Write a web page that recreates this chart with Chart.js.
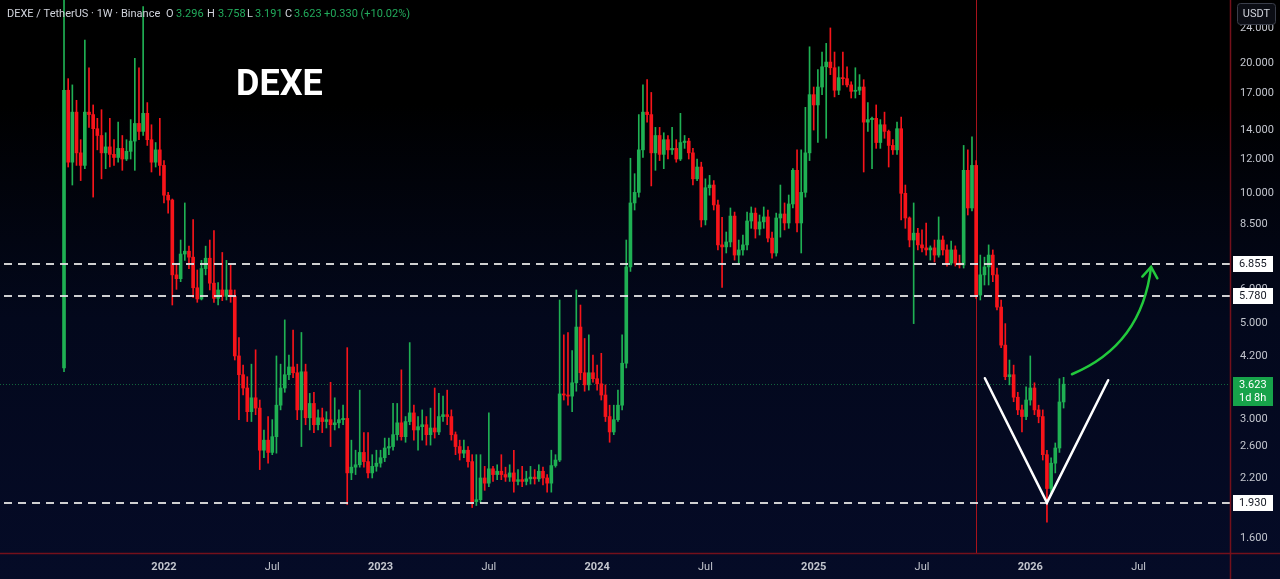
<!DOCTYPE html>
<html lang="en">
<head>
<meta charset="UTF-8">
<title>DEXE / TetherUS · 1W · Binance</title>
<script src="https://cdn.jsdelivr.net/npm/chart.js"></script>
<style>
  body { margin: 0; padding: 0; background: #000; }
  #wrap { width: 1280px; height: 579px; }
  canvas { display: block; }
</style>
</head>
<body>
<div id="wrap"><canvas id="mainCanvas" width="1280" height="579"></canvas></div>
<script>
// weekly candles, index 0 = first week on the chart
const opens = [
  3.95, 17.3, 11.8, 15.4, 12.4, 11.6, 15.4, 15.2, 14.1, 13.6,
  12.4, 12.8, 12.3, 12.1, 12.7, 12.0, 12.5, 13.2, 14.5, 13.9,
  15.3, 13.3, 11.8, 12.6, 11.6, 9.9, 9.65, 6.48, 6.35, 7.24,
  7.35, 7.12, 6.05, 5.7, 6.7, 7.08, 6.2, 5.72, 5.98, 5.78,
  5.98, 5.78, 4.21, 3.81, 3.55, 3.13, 3.37, 3.19, 2.55, 2.69,
  2.52, 2.74, 3.24, 3.55, 3.81, 3.97, 3.85, 3.16, 3.87, 3.03,
  3.27, 2.92, 3.03, 2.97, 3.0, 2.92, 2.95, 3.0, 3.02, 2.26,
  2.33, 2.36, 2.52, 2.40, 2.26, 2.34, 2.38, 2.45, 2.58, 2.60,
  2.77, 2.95, 2.74, 2.97, 3.11, 2.84, 2.89, 2.92, 2.77, 2.87,
  2.81, 3.05, 3.08, 3.05, 2.77, 2.60, 2.51, 2.55, 2.40, 1.94,
  1.96, 2.20, 2.14, 2.31, 2.24, 2.28, 2.24, 2.21, 2.26, 2.16,
  2.18, 2.16, 2.19, 2.21, 2.19, 2.28, 2.20, 2.14, 2.35, 2.42,
  3.44, 3.42, 3.40, 3.65, 4.91, 3.85, 3.61, 3.85, 3.73, 3.63,
  3.42, 3.05, 2.81, 3.0, 3.24, 4.05, 6.76, 9.5, 10.05, 12.6,
  15.4, 15.2, 12.4, 13.6, 12.3, 13.3, 12.6, 12.7, 12.0, 13.1,
  13.2, 12.4, 10.8, 11.5, 8.68, 10.3, 10.45, 9.40, 7.60, 7.52,
  7.72, 8.86, 7.20, 7.40, 7.60, 8.63, 9.0, 8.27, 8.59, 8.82,
  7.88, 7.28, 8.77, 8.96, 8.54, 9.45, 11.3, 8.54, 10.05, 12.4,
  16.9, 16.0, 17.6, 19.6, 20.1, 19.5, 17.3, 18.5, 18.4, 17.8,
  17.2, 17.3, 17.6, 14.6, 14.8, 14.9, 13.1, 14.4, 13.9, 12.9,
  12.6, 14.1, 10.0, 8.77, 7.80, 8.09, 7.60, 7.48, 7.40, 7.48,
  7.20, 7.80, 7.40, 6.90, 7.40, 6.90, 6.83, 11.3, 9.25, 11.6,
  5.82, 6.48, 6.76, 7.20, 6.48, 5.46, 4.46, 3.77, 3.81, 3.38,
  3.16, 3.05, 3.33, 3.55, 3.16, 3.05, 2.49, 2.08, 2.38, 2.58,
  3.296
];
const highs = [
  30, 18.4, 17.8, 16.4, 13.3, 22.6, 19.5, 16.0, 14.9, 15.6,
  13.8, 14.9, 13.3, 14.6, 13.6, 13.3, 14.8, 20.5, 19.5, 27.0,
  16.2, 14.4, 13.1, 14.9, 11.9, 10.05, 9.7, 6.83, 7.8, 9.5,
  7.55, 8.7, 6.65, 7.0, 7.55, 7.8, 8.2, 6.22, 7.3, 7.0,
  6.83, 5.98, 4.64, 4.01, 3.77, 4.03, 4.35, 3.33, 2.84, 3.05,
  3.0, 4.21, 4.03, 5.1, 4.23, 4.83, 4.03, 4.77, 4.03, 3.45,
  3.47, 3.16, 3.19, 3.13, 3.66, 3.37, 3.16, 3.24, 4.4, 2.69,
  2.55, 3.51, 2.80, 2.80, 2.49, 2.55, 2.55, 2.72, 2.72, 3.27,
  3.27, 3.91, 3.05, 4.52, 3.24, 3.05, 3.16, 3.05, 3.19, 3.55,
  3.45, 3.40, 3.51, 3.16, 2.81, 2.69, 2.69, 2.60, 2.49, 2.49,
  2.49, 2.34, 3.11, 2.34, 2.36, 2.49, 2.33, 2.36, 2.55, 2.30,
  2.34, 2.28, 2.34, 2.30, 2.36, 2.33, 2.24, 2.55, 2.49, 5.67,
  4.71, 4.77, 4.33, 5.98, 5.52, 4.62, 4.71, 4.23, 4.01, 4.27,
  3.61, 3.24, 3.24, 3.51, 4.71, 7.8, 12.05, 11.1, 15.2, 17.8,
  18.3, 17.1, 14.2, 14.2, 13.8, 13.6, 14.2, 13.3, 15.3, 13.6,
  13.4, 12.7, 12.0, 11.8, 10.8, 11.0, 10.7, 9.65, 8.80, 8.14,
  9.25, 9.05, 7.80, 8.01, 9.05, 9.30, 9.25, 8.91, 9.30, 9.15,
  8.14, 9.0, 10.45, 9.50, 9.91, 11.4, 12.6, 12.6, 15.8, 21.8,
  17.6, 19.3, 21.2, 22.2, 24.1, 21.2, 19.6, 21.2, 19.6, 18.1,
  19.5, 18.8, 18.3, 16.2, 15.0, 16.0, 14.8, 15.4, 14.0, 13.3,
  14.6, 15.0, 10.45, 8.82, 9.50, 8.30, 8.23, 8.54, 7.56, 7.80,
  8.82, 7.97, 7.60, 7.76, 7.56, 7.20, 12.9, 12.6, 13.5, 11.9,
  7.20, 7.12, 7.60, 7.40, 6.72, 5.67, 5.0, 4.12, 4.01, 3.47,
  3.24, 3.57, 4.21, 3.65, 3.24, 3.16, 2.55, 2.45, 2.65, 3.73,
  3.758
];
const lows = [
  3.87, 11.5, 10.45, 11.6, 10.7, 11.4, 14.2, 9.8, 12.6, 10.8,
  11.4, 11.5, 11.6, 11.8, 11.3, 11.9, 12.0, 11.3, 13.3, 13.6,
  12.9, 11.2, 11.5, 11.0, 9.5, 9.0, 5.52, 6.0, 6.25, 7.0,
  6.7, 5.75, 5.6, 5.67, 6.48, 5.98, 5.6, 5.52, 5.65, 5.67,
  5.6, 4.12, 3.0, 3.42, 2.97, 2.97, 3.08, 2.30, 2.45, 2.38,
  2.49, 2.51, 3.16, 3.47, 3.71, 3.75, 3.0, 2.6, 2.92, 2.84,
  2.80, 2.84, 2.80, 2.87, 2.6, 2.84, 2.87, 2.92, 1.91, 2.18,
  2.24, 2.33, 2.33, 2.2, 2.2, 2.28, 2.33, 2.40, 2.49, 2.55,
  2.69, 2.69, 2.66, 2.92, 2.69, 2.55, 2.69, 2.62, 2.62, 2.72,
  2.77, 2.97, 2.92, 2.69, 2.49, 2.42, 2.45, 2.33, 1.88, 1.90,
  1.93, 2.06, 2.10, 2.16, 2.18, 2.18, 2.16, 2.16, 2.04, 2.12,
  2.10, 2.12, 2.13, 2.13, 2.16, 2.12, 2.04, 2.04, 2.33, 2.40,
  3.33, 3.24, 3.13, 3.49, 3.71, 3.49, 3.51, 3.66, 3.51, 3.33,
  2.97, 2.66, 2.77, 2.97, 3.16, 3.95, 6.6, 9.15, 9.8, 12.1,
  14.6, 10.4, 11.3, 11.9, 11.4, 12.0, 12.3, 11.8, 11.9, 12.7,
  12.0, 10.45, 10.7, 8.36, 8.45, 9.9, 9.15, 7.40, 6.06, 7.28,
  7.52, 7.01, 6.90, 7.20, 7.40, 8.30, 7.88, 8.01, 8.30, 7.72,
  7.08, 7.16, 7.92, 8.23, 8.30, 9.25, 8.14, 7.28, 9.80, 11.9,
  14.0, 13.1, 16.9, 13.4, 18.8, 16.7, 16.9, 17.8, 17.6, 16.6,
  16.6, 16.9, 11.2, 13.9, 11.4, 12.7, 12.7, 13.4, 11.5, 12.3,
  12.3, 8.68, 8.30, 7.52, 5.0, 7.40, 7.32, 7.20, 7.01, 6.94,
  7.12, 7.20, 6.79, 6.83, 6.79, 6.72, 6.72, 8.91, 9.10, 5.72,
  5.67, 6.14, 6.14, 6.25, 5.38, 4.40, 3.71, 3.61, 3.30, 3.08,
  2.81, 3.0, 3.24, 3.08, 2.95, 2.42, 1.74, 2.01, 2.26, 2.52,
  3.191
];
const closes = [
  17.3, 11.8, 15.4, 12.4, 11.6, 15.4, 15.2, 14.1, 13.6, 12.4,
  12.8, 12.3, 12.1, 12.7, 12.0, 12.5, 13.2, 14.5, 13.9, 15.3,
  13.3, 11.8, 12.6, 11.6, 9.9, 9.65, 6.48, 6.35, 7.24, 7.35,
  7.12, 6.05, 5.7, 6.7, 7.08, 6.2, 5.72, 5.98, 5.78, 5.98,
  5.78, 4.21, 3.81, 3.55, 3.13, 3.37, 3.19, 2.55, 2.69, 2.52,
  2.74, 3.24, 3.55, 3.81, 3.97, 3.85, 3.16, 3.87, 3.03, 3.27,
  2.92, 3.03, 2.97, 3.0, 2.92, 2.95, 3.0, 3.02, 2.26, 2.33,
  2.36, 2.52, 2.40, 2.26, 2.34, 2.38, 2.45, 2.58, 2.60, 2.77,
  2.95, 2.74, 2.97, 3.11, 2.84, 2.89, 2.92, 2.77, 2.87, 2.81,
  3.05, 3.08, 3.05, 2.77, 2.60, 2.51, 2.55, 2.40, 1.94, 1.96,
  2.20, 2.14, 2.31, 2.24, 2.28, 2.24, 2.21, 2.26, 2.16, 2.18,
  2.16, 2.19, 2.21, 2.19, 2.28, 2.20, 2.14, 2.35, 2.42, 3.44,
  3.42, 3.40, 3.65, 4.91, 3.85, 3.61, 3.85, 3.73, 3.63, 3.42,
  3.05, 2.81, 3.0, 3.24, 4.05, 6.76, 9.5, 10.05, 12.6, 15.4,
  15.2, 12.4, 13.6, 12.3, 13.3, 12.6, 12.7, 12.0, 13.1, 13.2,
  12.4, 10.8, 11.5, 8.68, 10.3, 10.45, 9.40, 7.60, 7.52, 7.72,
  8.86, 7.20, 7.40, 7.60, 8.63, 9.0, 8.27, 8.59, 8.82, 7.88,
  7.28, 8.77, 8.96, 8.54, 9.45, 11.3, 8.54, 10.05, 12.4, 16.9,
  16.0, 17.6, 19.6, 20.1, 19.5, 17.3, 18.5, 18.4, 17.8, 17.2,
  17.3, 17.6, 14.6, 14.8, 14.9, 13.1, 14.4, 13.9, 12.9, 12.6,
  14.1, 10.0, 8.77, 7.80, 8.09, 7.60, 7.48, 7.40, 7.48, 7.20,
  7.80, 7.40, 6.90, 7.40, 6.90, 6.83, 11.3, 9.25, 11.6, 5.82,
  6.48, 6.76, 7.20, 6.48, 5.46, 4.46, 3.77, 3.81, 3.38, 3.16,
  3.05, 3.33, 3.55, 3.16, 3.05, 2.49, 2.08, 2.38, 2.58, 3.296,
  3.623
];

// time axis: week index of each label
const tickWeeks = [24, 50, 76, 102, 128, 154, 180, 206, 232, 258];
const tickLabels = ['2022', 'Jul', '2023', 'Jul', '2024', 'Jul', '2025', 'Jul', '2026', 'Jul'];
// price axis labels
const priceTicks = [1.6, 2.2, 2.6, 3, 4.2, 5, 6, 8.5, 10, 12, 14, 17, 20, 24];
// horizontal levels drawn on the chart
const levels = [6.855, 5.780, 1.930];
const lastPrice = 3.623;
const markerWeek = 219;
// drawings (week index, price)
const vShape = [{x: 221.1, y: 3.74}, {x: 236, y: 1.93}, {x: 250.7, y: 3.70}];
const arrowPts = [{x: 242, y: 3.82}, {x: 258.8, y: 4.46}, {x: 261.0, y: 6.76}];

const GREEN = '#1fb053';
const RED = '#f7141a';
const FONT = 'Roboto, "Liberation Sans", sans-serif';

const candleColors = closes.map((c, i) => c >= opens[i] ? GREEN : RED);

const overlay = {
    id: 'overlay',
    beforeDraw(chart) {
        const ctx = chart.ctx;
        const g = ctx.createLinearGradient(0, 0, 0, chart.height);
        g.addColorStop(0, '#000000');
        g.addColorStop(0.18, '#000000');
        g.addColorStop(0.55, '#03081c');
        g.addColorStop(1, '#050b27');
        ctx.save();
        ctx.fillStyle = g;
        ctx.fillRect(0, 0, chart.width, chart.height);
        ctx.restore();
    },
    beforeDatasetsDraw(chart) {
        const ctx = chart.ctx;
        const xs = chart.scales.x, ys = chart.scales.y;
        const area = chart.chartArea;
        ctx.save();
        // red marker line
        const mx = Math.round(xs.getPixelForValue(markerWeek)) + 0.5;
        ctx.strokeStyle = '#a8131c';
        ctx.lineWidth = 1;
        ctx.beginPath();
        ctx.moveTo(mx, area.top);
        ctx.lineTo(mx, area.bottom);
        ctx.stroke();
        // last price dotted line
        const py = Math.round(ys.getPixelForValue(lastPrice)) + 0.5;
        ctx.strokeStyle = 'rgba(31,174,85,0.55)';
        ctx.setLineDash([1, 2]);
        ctx.beginPath();
        ctx.moveTo(area.left, py);
        ctx.lineTo(area.right, py);
        ctx.stroke();
        ctx.restore();
    },
    afterDatasetsDraw(chart) {
        const ctx = chart.ctx;
        const xs = chart.scales.x, ys = chart.scales.y;
        const area = chart.chartArea;
        const px = p => [xs.getPixelForValue(p.x), ys.getPixelForValue(p.y)];
        ctx.save();
        // dashed levels
        ctx.strokeStyle = 'rgba(225,225,225,0.92)';
        ctx.lineWidth = 2;
        ctx.setLineDash([8, 6]);
        levels.forEach(v => {
            const y = Math.round(ys.getPixelForValue(v));
            ctx.beginPath();
            ctx.moveTo(area.left + 4, y);
            ctx.lineTo(area.right, y);
            ctx.stroke();
        });
        ctx.setLineDash([]);
        // V drawing
        ctx.strokeStyle = '#ffffff';
        ctx.lineWidth = 2.5;
        ctx.lineCap = 'round';
        ctx.lineJoin = 'miter';
        ctx.beginPath();
        vShape.forEach((p, i) => {
            const [x, y] = px(p);
            if (i === 0) ctx.moveTo(x, y); else ctx.lineTo(x, y);
        });
        ctx.stroke();
        // curved arrow
        const [x0, y0] = px(arrowPts[0]);
        const [x1, y1] = px(arrowPts[1]);
        const [x2, y2] = px(arrowPts[2]);
        ctx.strokeStyle = '#22c93c';
        ctx.lineWidth = 2.5;
        ctx.beginPath();
        ctx.moveTo(x0, y0);
        ctx.quadraticCurveTo(x1, y1, x2, y2);
        ctx.stroke();
        const ang = Math.atan2(y2 - y1, x2 - x1);
        ctx.beginPath();
        ctx.moveTo(x2 + 13 * Math.cos(ang + Math.PI - 0.62), y2 + 13 * Math.sin(ang + Math.PI - 0.62));
        ctx.lineTo(x2, y2);
        ctx.lineTo(x2 + 13 * Math.cos(ang + Math.PI + 0.62), y2 + 13 * Math.sin(ang + Math.PI + 0.62));
        ctx.stroke();
        ctx.restore();
    },
    afterDraw(chart) {
        const ctx = chart.ctx;
        const ys = chart.scales.y;
        const area = chart.chartArea;
        ctx.save();
        // frame lines
        ctx.strokeStyle = '#74101b';
        ctx.lineWidth = 1.5;
        ctx.beginPath();
        ctx.moveTo(0, area.bottom + 0.5);
        ctx.lineTo(chart.width, area.bottom + 0.5);
        ctx.moveTo(area.right + 0.5, 0);
        ctx.lineTo(area.right + 0.5, chart.height);
        ctx.stroke();

        // level boxes on the price axis
        ctx.font = '11px ' + FONT;
        ctx.textBaseline = 'middle';
        ctx.textAlign = 'left';
        levels.forEach(v => {
            const y = Math.round(ys.getPixelForValue(v));
            ctx.fillStyle = '#ffffff';
            ctx.fillRect(area.right + 3, y - 8, 40, 16);
            ctx.fillStyle = '#131722';
            ctx.fillText(v.toFixed(3), area.right + 9, y + 0.5);
        });
        // last price box
        const ly = Math.round(ys.getPixelForValue(lastPrice));
        ctx.fillStyle = '#17a34a';
        ctx.fillRect(area.right + 3, ly - 7, 40, 29);
        ctx.fillStyle = '#ffffff';
        ctx.fillText(lastPrice.toFixed(3), area.right + 9, ly + 1);
        ctx.fillText('1d 8h', area.right + 9, ly + 14);

        // USDT button
        ctx.fillStyle = '#0b0d14';
        ctx.strokeStyle = '#3a3e4a';
        ctx.lineWidth = 1;
        ctx.beginPath();
        ctx.roundRect(1237.5, 3.5, 38, 21, 3);
        ctx.fill();
        ctx.stroke();
        ctx.fillStyle = '#d1d4dc';
        ctx.textAlign = 'center';
        ctx.fillText('USDT', 1256.5, 14.5);

        // header legend
        ctx.textAlign = 'left';
        ctx.textBaseline = 'alphabetic';
        ctx.font = '11px ' + FONT;
        const head = [
            ['DEXE / TetherUS · 1W · Binance', 7, '#d1d4dc'],
            ['O', 166, '#d1d4dc'], ['3.296', 176, '#22ab5c'],
            ['H', 207, '#d1d4dc'], ['3.758', 218, '#22ab5c'],
            ['L', 247, '#d1d4dc'], ['3.191', 255, '#22ab5c'],
            ['C', 285, '#d1d4dc'], ['3.623', 294, '#22ab5c'],
            ['+0.330 (+10.02%)', 324, '#22ab5c']
        ];
        head.forEach(([t, x, c]) => {
            ctx.fillStyle = c;
            ctx.fillText(t, x, 17);
        });

        // symbol title
        ctx.font = 'bold 36px ' + FONT;
        ctx.fillStyle = '#ffffff';
        ctx.fillText('DEXE', 236, 95);
        ctx.restore();
    }
};

const ctx = document.getElementById('mainCanvas').getContext('2d');
new Chart(ctx, {
    type: 'bar',
    data: {
        datasets: [
            {
                label: 'wick',
                data: lows.map((l, i) => ({x: i, y: [l, highs[i]]})),
                backgroundColor: candleColors,
                barThickness: 1,
                grouped: false,
                order: 2
            },
            {
                label: 'body',
                data: opens.map((o, i) => ({x: i, y: [o, closes[i]]})),
                backgroundColor: candleColors,
                barThickness: 3,
                minBarLength: 1,
                grouped: false,
                order: 1
            }
        ]
    },
    options: {
        responsive: false,
        animation: false,
        devicePixelRatio: 1,
        layout: { padding: 0 },
        events: [],
        plugins: {
            legend: { display: false },
            tooltip: { enabled: false }
        },
        scales: {
            x: {
                type: 'linear',
                min: -15.37,
                max: 279.95,
                offset: false,
                grid: { display: false, drawTicks: false, offset: false },
                border: { display: false },
                afterFit(scale) {
                    scale.height = 26;
                    scale.paddingLeft = 0;
                    scale.paddingRight = 0;
                },
                afterBuildTicks(scale) {
                    scale.ticks = tickWeeks.map(v => ({value: v}));
                },
                ticks: {
                    autoSkip: false,
                    maxRotation: 0,
                    padding: 8,
                    color: '#c3c6ce',
                    font: c => ({family: FONT, size: 11, weight: tickLabels[c.index] === 'Jul' ? 'normal' : 'bold'}),
                    callback: (v, i) => tickLabels[i]
                }
            },
            y: {
                type: 'logarithmic',
                position: 'right',
                min: 1.476,
                max: 27.96,
                bounds: 'data',
                grid: { display: false, drawTicks: false },
                border: { display: false },
                afterFit(scale) {
                    scale.width = 50;
                    scale.paddingTop = 0;
                    scale.paddingBottom = 0;
                },
                afterBuildTicks(scale) {
                    scale.ticks = priceTicks.map(v => ({value: v}));
                },
                ticks: {
                    padding: 10,
                    color: '#c3c6ce',
                    font: {family: FONT, size: 11},
                    callback: v => Number(v).toFixed(3)
                }
            }
        }
    },
    plugins: [overlay]
});
</script>
</body>
</html>
